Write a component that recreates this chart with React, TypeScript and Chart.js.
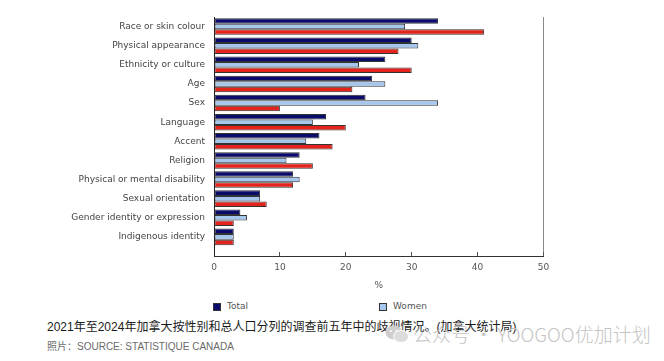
import React, { useEffect, useRef } from 'react';
import { Chart, registerables } from 'chart.js';

Chart.register(...registerables);

const categories = [
  'Race or skin colour',
  'Physical appearance',
  'Ethnicity or culture',
  'Age',
  'Sex',
  'Language',
  'Accent',
  'Religion',
  'Physical or mental disability',
  'Sexual orientation',
  'Gender identity or expression',
  'Indigenous identity',
];
const totalValues = [34, 30, 26, 24, 23, 17, 16, 13, 12, 7, 4, 3];
const womenValues = [29, 31, 22, 26, 34, 15, 14, 11, 13, 7, 5, 3];
const menValues = [41, 28, 30, 21, 10, 20, 18, 15, 12, 8, 3, 3];
const seriesLabels = ['Total', 'Women', 'Men'];
const seriesColors = ['#0b0b6b', '#a5c7ee', '#e4241c'];
const legendShown = seriesLabels.slice(0, 2);
const xMin = 0;
const xMax = 50;
const xStep = 10;
const axisTitle = '%';
const caption = '2021年至2024年加拿大按性别和总人口分列的调查前五年中的歧视情况。(加拿大统计局)';
const sourceText = '照片：SOURCE: STATISTIQUE CANADA';
const watermarkText = '公众号 · YOOGOO优加计划';

const FONT = '"DejaVu Sans", Verdana, sans-serif';

export default function App() {
  const canvasRef = useRef<HTMLCanvasElement | null>(null);

  useEffect(() => {
    const canvas = canvasRef.current;
    if (!canvas) return;
    const seriesValues = [totalValues, womenValues, menValues];
    const chart = new Chart(canvas, {
      type: 'bar',
      data: {
        datasets: seriesValues.map((vals, s) => ({
          label: seriesLabels[s],
          data: vals.map((v, i) => ({ x: v, y: i })),
          backgroundColor: seriesColors[s],
          borderColor: '#333333',
          borderWidth: 1,
          borderSkipped: false,
          categoryPercentage: 0.865,
          barPercentage: 1.0,
        })),
      },
      options: {
        indexAxis: 'y',
        animation: false,
        responsive: false,
        maintainAspectRatio: false,
        layout: { padding: { left: 0, top: 17, right: 120.5, bottom: 0 } },
        plugins: {
          legend: { display: false },
          tooltip: { enabled: false },
          title: { display: false },
        },
        scales: {
          y: {
            type: 'linear',
            reverse: true,
            offset: false,
            bounds: 'data',
            min: -0.5,
            max: 12,
            afterBuildTicks: (scale: any) => {
              scale.ticks = categories.map((_, i) => ({ value: i }));
            },
            afterFit: (scale: any) => {
              scale.width = 214;
            },
            ticks: {
              autoSkip: false,
              padding: 9,
              color: '#444444',
              font: { family: FONT, size: 9 },
              callback: (value: any) => categories[value as number] ?? '',
            },
            grid: { display: false, drawTicks: false, offset: false },
            border: { display: true, color: '#222222', width: 1 },
          },
          x: {
            type: 'linear',
            min: xMin,
            max: xMax,
            afterFit: (scale: any) => {
              scale.height = 44;
            },
            ticks: {
              stepSize: xStep,
              padding: 10,
              color: '#555555',
              font: { family: FONT, size: 9 },
            },
            grid: {
              display: true,
              drawOnChartArea: true,
              drawTicks: true,
              tickLength: -4,
              color: (ctx: any) => (ctx.tick && ctx.tick.value === xMax ? '#8a8a8a' : 'rgba(0,0,0,0)'),
              tickColor: '#555555',
              lineWidth: 1,
            },
            border: { display: true, color: '#333333', width: 1 },
            title: {
              display: true,
              text: axisTitle,
              color: '#555555',
              font: { family: FONT, size: 9 },
              padding: { top: 0, bottom: 8.6 },
            },
          },
        },
      },
    } as any);
    return () => chart.destroy();
  }, []);

  const legendLefts = [213, 379];

  return (
    <div
      style={{
        position: 'fixed',
        left: 0,
        top: 0,
        width: 664,
        height: 361,
        background: '#ffffff',
        overflow: 'hidden',
      }}
    >
      <canvas
        ref={canvasRef}
        width={664}
        height={300}
        style={{ position: 'absolute', left: 0, top: 0, width: 664, height: 300 }}
      />
      {legendShown.map((label, i) => (
        <div
          key={label}
          style={{
            position: 'absolute',
            left: legendLefts[i],
            top: 302,
            height: 9,
            display: 'flex',
            alignItems: 'center',
            gap: 6,
            fontFamily: FONT,
            fontSize: 9,
            color: '#555555',
            lineHeight: '9px',
            whiteSpace: 'nowrap',
          }}
        >
          <span
            style={{
              display: 'inline-block',
              width: 8,
              height: 8,
              boxSizing: 'border-box',
              background: seriesColors[i],
              border: '1px solid #333',
            }}
          />
          <span>{label}</span>
        </div>
      ))}
      <div
        style={{
          position: 'absolute',
          left: 47,
          top: 320,
          fontFamily: '"Liberation Sans", "Noto Sans CJK SC", sans-serif',
          fontSize: 12,
          lineHeight: '14px',
          color: '#1a1a1a',
          whiteSpace: 'nowrap',
        }}
      >
        {caption}
      </div>
      <svg
        width={24}
        height={18}
        viewBox="0 0 24 18"
        style={{ position: 'absolute', left: 385, top: 325 }}
      >
        <ellipse cx={9} cy={7.5} rx={8.5} ry={7} fill="#cfcfcf" />
        <ellipse cx={16} cy={11.5} rx={7.5} ry={6} fill="#dcdcdc" stroke="#ffffff" strokeWidth={1} />
        <circle cx={6} cy={6} r={1.1} fill="#ffffff" />
        <circle cx={11.5} cy={6} r={1.1} fill="#ffffff" />
      </svg>
      <div
        style={{
          position: 'absolute',
          left: 413,
          top: 323,
          fontFamily: '"Noto Sans CJK SC", sans-serif',
          fontWeight: 300,
          fontSize: 19,
          lineHeight: '22px',
          color: '#c4c4c4',
          whiteSpace: 'nowrap',
        }}
      >
        {watermarkText}
      </div>
      <div
        style={{
          position: 'absolute',
          left: 47,
          top: 341,
          fontFamily: '"Liberation Sans", "Noto Sans CJK SC", sans-serif',
          fontSize: 10,
          lineHeight: '12px',
          color: '#6a6a6a',
          whiteSpace: 'nowrap',
        }}
      >
        {sourceText}
      </div>
    </div>
  );
}
